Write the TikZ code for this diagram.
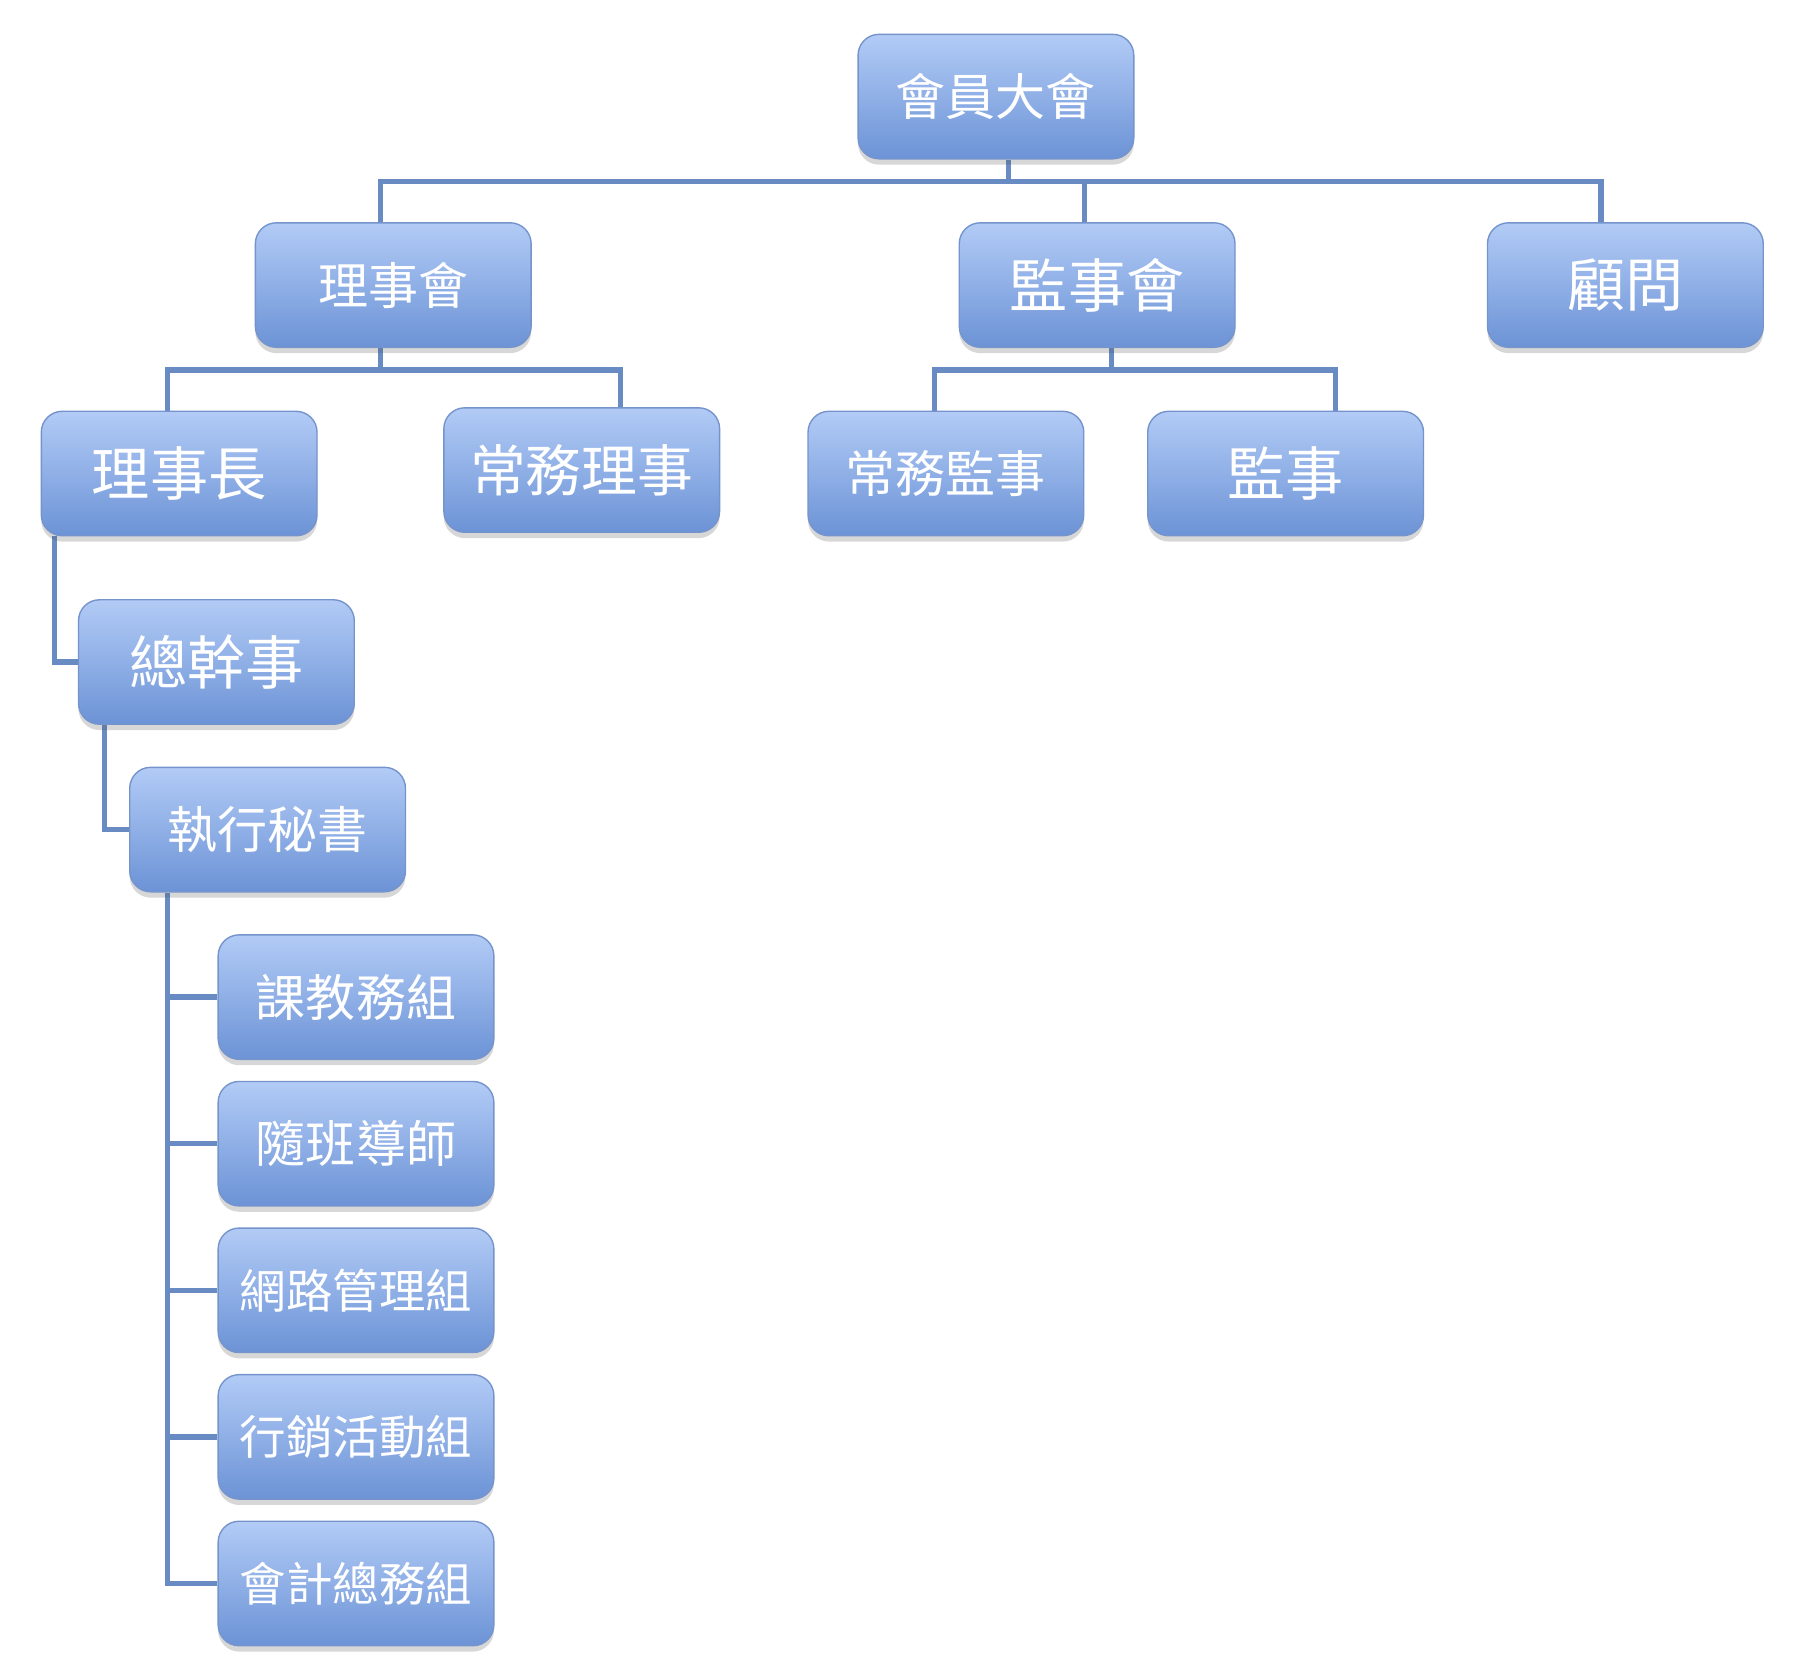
\documentclass[tikz,border=0pt]{standalone}
\usepackage{fontspec}
\newfontfamily\cjk{Noto Sans CJK TC}
\usetikzlibrary{shadows,backgrounds}
\definecolor{boxtop}{RGB}{178,203,246}
\definecolor{boxbot}{RGB}{108,147,214}
\definecolor{boxline}{RGB}{118,148,204}
\definecolor{conncol}{RGB}{104,139,196}
\tikzset{
 orgbox/.style={rounded corners=18pt, minimum width=237pt, minimum height=107pt, inner sep=0pt,
   top color=boxtop, bottom color=boxbot, draw=boxline, line width=1.2pt, text=white,
   drop shadow={shadow xshift=0pt, shadow yshift=-5pt, opacity=0.22, fill=black!70}},
 fA/.style={font=\cjk\fontsize{50}{50}\selectfont},
 fB/.style={font=\cjk\fontsize{43}{43}\selectfont},
 fC/.style={font=\cjk\fontsize{40}{40}\selectfont},
 conn/.style={draw=conncol, line width=4.5pt}
}
\begin{document}
\begin{tikzpicture}[x=1pt,y=-1pt]
\useasboundingbox (0,0) rectangle (1560,1441);
% boxes
\node[orgbox,fB] (top)  at (856,83)  {會員大會};
\node[orgbox,fB] (lsh)  at (338,245) {理事會};
\node[orgbox,fA] (jsh)  at (943,245) {監事會};
\node[orgbox,fA] (gw)   at (1397,245) {顧問};
\node[orgbox,fA] (lsz)  at (154,407) {理事長};
\node[orgbox,fA,font=\cjk\fontsize{48}{48}\selectfont] (cwls) at (500,404) {常務理事};
\node[orgbox,fB] (cwjs) at (813,407) {常務監事};
\node[orgbox,fA] (js)   at (1105,407) {監事};
\node[orgbox,fA] (zgs)  at (186,569) {總幹事};
\node[orgbox,fB] (zxms) at (230,713) {執行秘書};
\node[orgbox,fB] (g1)   at (306,857) {課教務組};
\node[orgbox,fB] (g2)   at (306,983) {隨班導師};
\node[orgbox,fC] (g3)   at (306,1109) {網路管理組};
\node[orgbox,fC] (g4)   at (306,1235) {行銷活動組};
\node[orgbox,fC] (g5)   at (306,1361) {會計總務組};
% junction coordinates
\coordinate (c0) at (867,156);
\coordinate (k1) at (327,156);
\coordinate (k2) at (932,156);
\coordinate (k3) at (1376,156);
\coordinate (m0) at (327,318);
\coordinate (m1) at (144,318);
\coordinate (m2) at (533,318);
\coordinate (n0) at (955,318);
\coordinate (n1) at (803,318);
\coordinate (n2) at (1148,318);
\coordinate (p1) at (47,0);
\coordinate (p2) at (90,0);
\coordinate (p3) at (144,0);
\begin{scope}[on background layer]
\fill[white] (0,0) rectangle (1560,1441);
\draw[conn] (top.south -| c0) -- (c0);
\draw[conn] (lsh.north -| k1) -- (k1) -- (k3) -- (gw.north -| k3);
\draw[conn] (jsh.north -| k2) -- (k2);
\draw[conn] (lsh.south -| m0) -- (m0);
\draw[conn] (lsz.north -| m1) -- (m1) -- (m2) -- (cwls.north -| m2);
\draw[conn] (jsh.south -| n0) -- (n0);
\draw[conn] (cwjs.north -| n1) -- (n1) -- (n2) -- (js.north -| n2);
\draw[conn] (lsz.south -| p1) |- (zgs.west);
\draw[conn] (zgs.south -| p2) |- (zxms.west);
\draw[conn] (zxms.south -| p3) |- (g5.west);
\draw[conn] (g1.west -| p3) -- (g1.west);
\draw[conn] (g2.west -| p3) -- (g2.west);
\draw[conn] (g3.west -| p3) -- (g3.west);
\draw[conn] (g4.west -| p3) -- (g4.west);
\end{scope}
\end{tikzpicture}
\end{document}
